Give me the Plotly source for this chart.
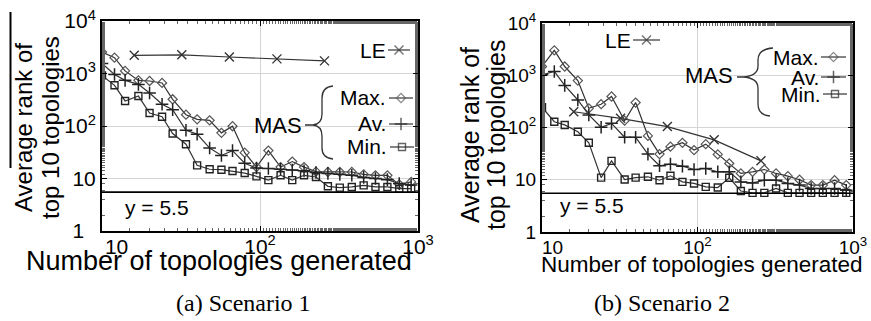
import plotly.graph_objects as go

# ---------------- data ----------------
x_mas = [10, 12, 14, 17, 20, 24, 28, 34, 40, 48, 57, 67, 80, 95, 113, 135,
         160, 190, 226, 269, 320, 381, 453, 538, 640, 761, 905]
x_le = [16, 32, 64, 128, 256]

s1_max = [2570, 2000, 1120, 740, 720, 660, 323, 164, 134, 128, 74, 99, 31, 16.5,
          34, 16.5, 21, 16.5, 13.5, 13.3, 13.3, 13.3, 12, 11.5, 11.5, 7.7, 8.6]
s1_av = [1550, 960, 740, 620, 425, 260, 205, 83, 70, 38, 27.5, 34, 19.5, 15.8,
         15.5, 15, 14.5, 14, 13, 12.5, 12, 11.5, 10.5, 10, 9.5, 8, 7.5]
s1_min = [920, 596, 300, 372, 177, 150, 72, 45, 17.8, 15, 14.7, 13.9, 12.7, 11,
          9.3, 11.5, 9.3, 11.5, 10.7, 7.1, 6.7, 6.9, 7.4, 6.9, 6.9, 6.4, 6.4]
s1_le = [2220, 2270, 2060, 1900, 1740]

s2_max = [1470, 2990, 1470, 790, 233, 279, 392, 135, 300, 69, 31, 43, 51, 37, 48,
          30.5, 20.5, 13.2, 14.2, 15.7, 13.2, 11.7, 10, 7.9, 7.9, 9.8, 7.9]
s2_av = [1020, 1180, 640, 336, 174, 101, 120, 65, 65, 31, 18.5, 19.9, 18.2, 15.7,
         16.4, 14.2, 14.2, 9.1, 8.7, 9.8, 9.8, 8.5, 7.9, 6.8, 6.8, 6.8, 6.3]
s2_min = [244, 129, 112, 83, 51, 11, 23, 10.1, 11, 11.4, 9.8, 11.9, 9.1, 8.5, 7.3,
          7.1, 10.9, 6.1, 5.6, 5.6, 6.8, 5.6, 5.6, 5.6, 5.6, 5.6, 5.6]
s2_le = [200, 150, 104, 58, 23]

y_ref = 5.5

NB = "\u00a0"
x_tickvals = [10, 100, 1000]
x_ticktext_1 = [NB * 5 + "10", "10<sup>2</sup>", "10<sup>3</sup>"]
x_ticktext_2 = [NB * 4 + "10", "10<sup>2</sup>", "10<sup>3</sup>"]
y_tickvals = [1, 10, 100, 1000, 10000]
y_ticktext_1 = ["1" + NB * 2, "10", "10<sup>2</sup>", "10<sup>3</sup>", "10<sup>4</sup>"]
y_ticktext_2 = ["1", "10", "10<sup>2</sup>", "10<sup>3</sup>", "10<sup>4</sup>"]

series_names = ["Max.", "Av.", "Min."]
x_title = "Number of topologies generated"
y_title_lines = ["Average rank of", "top 10 topologies"]
captions = ["(a) Scenario 1", "(b) Scenario 2"]

# ---------------- styles ----------------
W, H = 871, 321
FONT = "Liberation Sans, Arial, sans-serif"
SERIF = "Liberation Serif, Times New Roman, serif"
LINE = "#333333"
styles = {
    "Max.": dict(symbol="diamond-open", size=7, color="#555555", lw=1.2),
    "Av.": dict(symbol="cross-thin-open", size=9, color="#222222", lw=1.5),
    "Min.": dict(symbol="square-open", size=7, color="#222222", lw=1.4),
    "LE": dict(symbol="x-thin-open", size=9, color="#333333", lw=1.4),
}

fig = go.Figure()


def add_series(x, y, name, xa, ya):
    st = styles[name]
    fig.add_trace(go.Scatter(
        x=x, y=y, mode="lines+markers", name=name, showlegend=False,
        xaxis=xa, yaxis=ya,
        line=dict(color=LINE, width=1.2),
        marker=dict(symbol=st["symbol"], size=st["size"], color=st["color"],
                    line=dict(width=st["lw"], color=st["color"])),
    ))


for xa, ya, mx, av, mn, le in [("x", "y", s1_max, s1_av, s1_min, s1_le),
                               ("x2", "y2", s2_max, s2_av, s2_min, s2_le)]:
    add_series(x_le, le, "LE", xa, ya)
    add_series(x_mas, mx, "Max.", xa, ya)
    add_series(x_mas, av, "Av.", xa, ya)
    add_series(x_mas, mn, "Min.", xa, ya)
    # reference line y = 5.5
    fig.add_trace(go.Scatter(x=[10, 1000], y=[y_ref, y_ref], mode="lines",
                             showlegend=False, xaxis=xa, yaxis=ya,
                             line=dict(color="black", width=1.6)))


def legend_key(x0, x1, y, name):
    st = styles[name]
    xm = (x0 + x1) / 2
    fig.add_trace(go.Scatter(
        x=[x0, xm, x1], y=[y, y, y], mode="lines+markers", showlegend=False,
        xaxis="x3", yaxis="y3",
        line=dict(color=LINE, width=1.2),
        marker=dict(symbol=st["symbol"], size=[0, st["size"], 0], color=st["color"],
                    line=dict(width=st["lw"], color=st["color"])),
    ))


# legend keys (pixel coordinates on an overlay axis)
legend_key(388, 410, 50, "LE")
legend_key(389, 413, 98, "Max.")
legend_key(389, 413, 124, "Av.")
legend_key(390, 414, 147, "Min.")
legend_key(633, 660, 40, "LE")
legend_key(821, 846, 57, "Max.")
legend_key(821, 846, 77, "Av.")
legend_key(823, 847, 94, "Min.")

axis_common = dict(
    type="log", showline=True, linecolor="black", linewidth=2, mirror="allticks",
    ticks="inside", ticklen=5, tickcolor="black", tickwidth=1,
    showgrid=True, gridcolor="#d4d4d4", gridwidth=1, zeroline=False,
    automargin=False,
    minor=dict(ticks="inside", ticklen=3, tickcolor="#666666", showgrid=False),
)

fig.update_layout(
    template="none",
    width=W, height=H, margin=dict(l=0, r=0, t=0, b=0, pad=0, autoexpand=False),
    paper_bgcolor="white", plot_bgcolor="rgba(0,0,0,0)",
    font=dict(family=FONT, color="black"),
    showlegend=False,
    xaxis=dict(axis_common, domain=[102 / W, 418 / W], range=[1, 3], anchor="y",
               tickvals=x_tickvals, ticktext=x_ticktext_1, ticklabelstandoff=-4,
               tickfont=dict(size=21, family=FONT, color="black")),
    yaxis=dict(axis_common, domain=[1 - 231 / H, 1 - 21 / H], range=[0, 4], anchor="x",
               tickvals=y_tickvals, ticktext=y_ticktext_1,
               tickfont=dict(size=21, family=FONT, color="black"), ticklabelstandoff=0),
    xaxis2=dict(axis_common, domain=[542 / W, 853 / W], range=[1, 3], anchor="y2",
                tickvals=x_tickvals, ticktext=x_ticktext_2, ticklabelstandoff=-3,
                tickfont=dict(size=19, family=FONT, color="black")),
    yaxis2=dict(axis_common, domain=[1 - 232 / H, 1 - 23 / H], range=[0, 4], anchor="x2",
                tickvals=y_tickvals, ticktext=y_ticktext_2,
                tickfont=dict(size=19, family=FONT, color="black"), ticklabelstandoff=0),
    xaxis3=dict(domain=[0, 1], range=[0, W], visible=False, anchor="y3",
                fixedrange=True, automargin=False),
    yaxis3=dict(domain=[0, 1], range=[H, 0], visible=False, anchor="x3",
                fixedrange=True, automargin=False),
)

ann = []


def txt(x, y, s, size, xanchor="center", angle=0, family=FONT):
    ann.append(dict(x=x, y=y, xref="x3", yref="y3", text=s, showarrow=False,
                    xanchor=xanchor, yanchor="middle", textangle=angle,
                    font=dict(size=size, family=family, color="black")))


# left panel texts
txt(388, 50, "LE", 21, "right")
txt(388, 97, series_names[0], 21, "right")
txt(388, 123, series_names[1], 21, "right")
txt(389, 146, series_names[2], 21, "right")
txt(304, 125, "MAS", 22, "right")
txt(123, 207, "y = 5.5", 21, "left")
txt(219, 261, x_title, 27)
txt(23, 128, y_title_lines[0], 24, angle=-90)
txt(50, 128, y_title_lines[1], 24, angle=-90)
txt(243, 303, captions[0], 24, family=SERIF)

# right panel texts
txt(633, 40, "LE", 21, "right")
txt(821, 57, series_names[0], 21, "right")
txt(821, 77, series_names[1], 21, "right")
txt(823, 94, series_names[2], 21, "right")
txt(735, 75, "MAS", 22, "right")
txt(558, 205, "y = 5.5", 21, "left")
txt(701, 264, x_title, 22.5)
txt(470, 135, y_title_lines[0], 25, angle=-90)
txt(496, 135, y_title_lines[1], 25, angle=-90)
txt(662, 303, captions[1], 24, family=SERIF)

fig.update_layout(annotations=ann)

# braces and scan artefact line (pixel coordinates on the overlay axis)
shapes = [
    dict(type="path", xref="x3", yref="y3",
         path="M 305 125 L 313 125 Q 322 124 322 114 L 322 98 Q 322 87 333 86 "
              "M 313 125 Q 322 126 322 136 L 322 148 Q 322 158 333 159",
         line=dict(color="#333333", width=1.3)),
    dict(type="path", xref="x3", yref="y3",
         path="M 737 77 L 743 77 Q 758 76 758 66 L 758 60 Q 758 49 773 48 "
              "M 743 77 Q 758 78 758 88 L 758 104 Q 758 115 770 116",
         line=dict(color="#333333", width=1.3)),
    dict(type="line", xref="x3", yref="y3", x0=10.5, x1=10.5, y0=12, y1=168,
         line=dict(color="black", width=2)),
]
fig.update_layout(shapes=shapes)

fig.write_html(
    "out.html",
    config={"displayModeBar": False, "staticPlot": True},
    post_script="document.body.style.margin='0';document.body.style.padding='0';"
                "document.documentElement.style.overflow='hidden';",
)
